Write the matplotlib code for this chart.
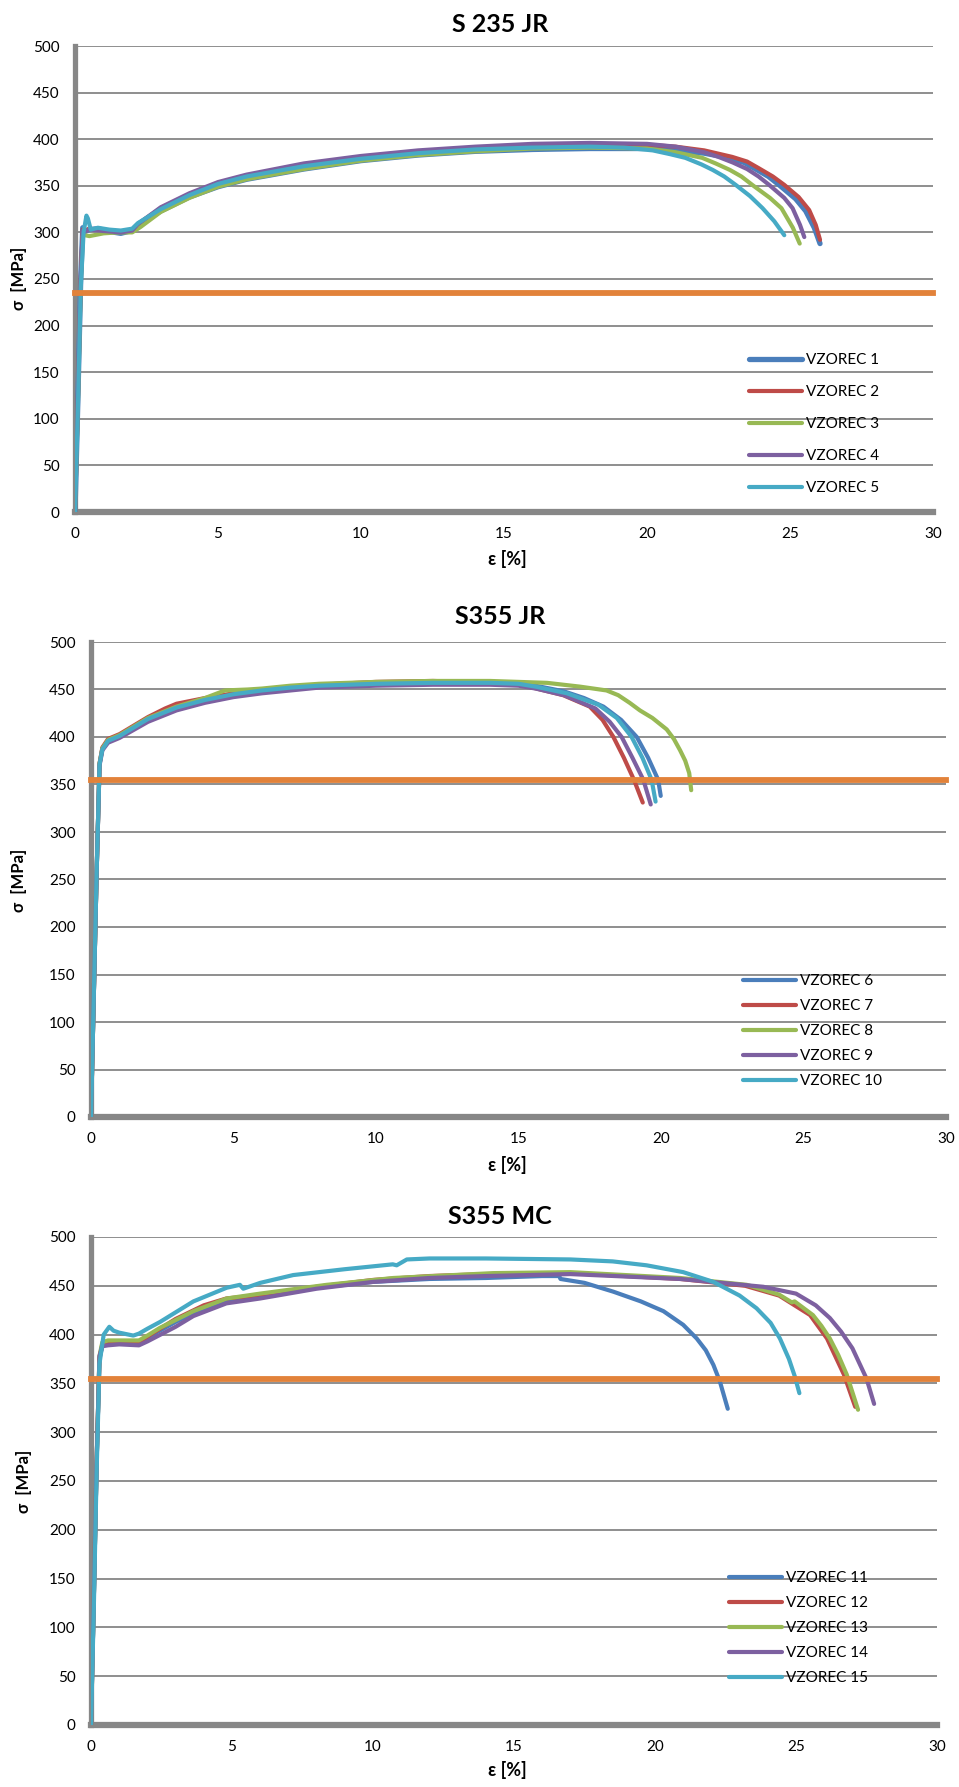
import numpy as np
import matplotlib.pyplot as plt

plt.rcParams['font.family'] = ['Lato', 'DejaVu Sans']

# ---- S 235 JR ----
v1_eps = [0, 0.1, 0.2, 0.27, 0.35, 0.5, 0.8, 1.2, 1.6, 2.0, 2.2, 3, 4, 5, 6, 8, 10, 12, 14, 16, 18, 20, 21, 22, 22.87, 23.4, 23.8, 24.25, 24.62, 25.2, 25.55, 25.85, 26.05]
v1_sig = [0, 120, 250, 305, 301, 303, 304, 301, 299, 302, 308, 323, 338, 349, 357, 368, 377, 383, 387, 389, 390, 390, 388, 385, 380, 375, 368, 360, 351, 336, 323, 305, 288]
v2_eps = [0, 0.1, 0.2, 0.27, 0.35, 0.5, 0.8, 1.2, 1.6, 2.0, 2.2, 3, 4, 5, 6, 8, 10, 12, 14, 16, 18, 20, 21, 22, 22.98, 23.5, 23.9, 24.4, 24.8, 25.3, 25.67, 25.9, 26.05]
v2_sig = [0, 120, 250, 303, 302, 304, 303, 302, 301, 303, 309, 326, 341, 353, 361, 373, 381, 387, 391, 394, 395, 394, 392, 388, 381, 376, 369, 360, 351, 338, 324, 308, 292]
v3_eps = [0, 0.1, 0.2, 0.27, 0.35, 0.5, 1.0, 1.5, 2.0, 2.3, 3, 4, 5, 6, 8, 10, 12, 14, 16, 18, 20, 21, 21.93, 22.4, 22.9, 23.3, 23.68, 24.3, 24.7, 25.1, 25.34]
v3_sig = [0, 115, 245, 296, 297, 296, 299, 300, 300, 306, 322, 337, 349, 357, 368, 377, 383, 387, 390, 391, 390, 386, 380, 374, 367, 360, 351, 337, 326, 305, 288]
v4_eps = [0, 0.1, 0.2, 0.27, 0.35, 0.5, 0.8, 1.2, 1.6, 2.0, 2.2, 3, 4, 5, 6, 8, 10, 12, 14, 16, 18, 20, 21, 22, 22.5, 23.0, 23.5, 23.9, 24.27, 24.8, 25.09, 25.35, 25.5]
v4_sig = [0, 120, 250, 302, 301, 303, 302, 301, 300, 302, 309, 327, 342, 354, 362, 374, 382, 388, 392, 395, 396, 395, 392, 386, 381, 375, 368, 360, 351, 337, 326, 308, 295]
v5_eps = [0, 0.1, 0.2, 0.3, 0.4, 0.45, 0.55, 0.8, 1.2, 1.6, 2.0, 2.2, 3, 4, 5, 6, 8, 10, 12, 14, 16, 18, 19.2, 20.2, 20.8, 21.34, 21.9, 22.3, 22.7, 23.1, 23.6, 24.04, 24.45, 24.8]
v5_sig = [0, 110, 240, 300, 318, 315, 303, 305, 303, 302, 304, 310, 325, 340, 352, 360, 371, 379, 385, 389, 391, 392, 391, 388, 384, 380, 373, 367, 360, 351, 339, 326, 312, 297]

# ---- S355 JR ----
v6_eps = [0, 0.1, 0.2, 0.3, 0.4, 0.6, 1, 2, 3, 4, 5, 6, 7, 8, 10, 12, 14, 15, 15.6, 16.6, 17.3, 17.98, 18.6, 19.15, 19.55, 19.9, 19.99]
v6_sig = [0, 130, 260, 372, 388, 396, 401, 419, 431, 439, 445, 449, 452, 454, 456, 457, 457, 456, 454, 448, 441, 432, 418, 400, 378, 355, 338]
v7_eps = [0, 0.1, 0.2, 0.3, 0.4, 0.6, 1, 2, 2.6, 3, 4, 5, 6, 7, 8, 10, 12, 14, 15, 15.5, 16.57, 17.5, 17.95, 18.33, 18.7, 19.05, 19.36]
v7_sig = [0, 130, 260, 372, 389, 398, 403, 421, 430, 435, 441, 446, 450, 453, 455, 458, 459, 457, 455, 452, 444, 432, 418, 400, 378, 355, 331]
v8_eps = [0, 0.1, 0.2, 0.3, 0.4, 0.6, 1, 2, 3, 4, 4.7, 5.5, 6, 7, 8, 10, 12, 14, 16, 17.16, 18.09, 18.5, 18.9, 19.26, 19.7, 20.2, 20.45, 20.67, 20.85, 20.99, 21.06]
v8_sig = [0, 130, 260, 372, 388, 397, 402, 420, 432, 441, 449, 450, 451, 454, 456, 458, 459, 459, 457, 453, 449, 444, 436, 428, 420, 408, 398, 386, 375, 362, 344]
v9_eps = [0, 0.1, 0.2, 0.3, 0.4, 0.6, 1, 2, 3, 4, 5, 6, 7, 8, 10, 12, 14, 15, 15.6, 16.6, 17.7, 18.2, 18.62, 19.0, 19.38, 19.64]
v9_sig = [0, 130, 260, 370, 386, 394, 399, 416, 428, 436, 442, 446, 449, 452, 454, 455, 455, 454, 451, 444, 430, 416, 400, 378, 355, 329]
v10_eps = [0, 0.1, 0.2, 0.3, 0.4, 0.6, 1, 2, 3, 4, 5, 6, 7, 8, 10, 12, 14, 15, 15.6, 16.7, 17.8, 18.45, 18.97, 19.35, 19.67, 19.81]
v10_sig = [0, 130, 260, 371, 387, 396, 401, 419, 431, 439, 445, 449, 452, 454, 456, 457, 457, 456, 453, 446, 434, 420, 400, 378, 355, 332]

# ---- S355 MC ----
v11_eps = [0, 0.1, 0.2, 0.3, 0.4, 0.5, 1.0, 1.7, 2.0, 3, 4, 5, 6, 8, 10, 12, 14, 15, 16, 16.6, 16.65, 17.5, 18.52, 19.5, 20.3, 21.0, 21.48, 21.8, 22.07, 22.3, 22.58]
v11_sig = [0, 130, 270, 375, 388, 391, 392, 391, 397, 413, 427, 435, 440, 448, 454, 457, 458, 459, 460, 460, 457, 453, 444, 434, 424, 410, 396, 384, 369, 352, 324]
v12_eps = [0, 0.1, 0.2, 0.3, 0.4, 0.5, 1.0, 1.7, 2.0, 3, 4, 4.8, 5.5, 6, 8, 10, 12, 14, 17, 20.9, 23.2, 24.4, 25.5, 26.1, 26.7, 27.1]
v12_sig = [0, 130, 270, 376, 390, 392, 393, 392, 398, 416, 430, 437, 439, 441, 449, 456, 460, 462, 463, 457, 450, 440, 420, 396, 359, 326]
v13_eps = [0, 0.1, 0.2, 0.3, 0.4, 0.6, 1.0, 1.7, 2.0, 2.45, 3.63, 4.81, 6.0, 8.36, 10.72, 14.27, 17, 20.9, 23.25, 24.4, 24.85, 24.95, 25.6, 25.9, 26.2, 26.5, 26.8, 27.2]
v13_sig = [0, 130, 270, 378, 392, 394, 394, 394, 399, 407, 424, 437, 442, 451, 458, 463, 464, 458, 451, 441, 433, 434, 420, 409, 396, 379, 359, 323]
v14_eps = [0, 0.1, 0.2, 0.3, 0.4, 0.6, 1.0, 1.7, 2.0, 3, 3.63, 4.8, 6.0, 8, 10, 12, 14, 17, 20.9, 23.84, 25.0, 25.7, 26.2, 26.6, 27.0, 27.5, 27.77]
v14_sig = [0, 130, 270, 378, 388, 389, 390, 389, 393, 408, 419, 432, 437, 447, 454, 458, 460, 462, 457, 449, 442, 430, 417, 403, 386, 355, 329]
v15_eps = [0, 0.1, 0.2, 0.3, 0.45, 0.65, 0.8, 1.0, 1.5, 1.7, 2.0, 2.45, 3.63, 4.81, 5.28, 5.4, 6.0, 7.17, 9, 10.7, 10.84, 11.2, 12, 14, 17, 18.5, 19.7, 21, 22.07, 23, 23.6, 24.1, 24.43, 24.75, 24.96, 25.12]
v15_sig = [0, 120, 260, 370, 400, 408, 404, 402, 399, 401, 406, 413, 434, 448, 451, 447, 453, 461, 467, 472, 471, 477, 478, 478, 477, 475, 471, 464, 454, 440, 427, 412, 396, 375, 357, 340]

colors = ['#4A7EBB', '#BE4B48', '#98B954', '#7D60A0', '#46AAC5']
yield_color = '#E2823A'
grid_color = '#8E8E8E'
axis_color = '#878787'

panels = [
    dict(title='S 235 JR', yield_val=235,
         eps=[v1_eps, v2_eps, v3_eps, v4_eps, v5_eps],
         sig=[v1_sig, v2_sig, v3_sig, v4_sig, v5_sig],
         labels=['VZOREC 1', 'VZOREC 2', 'VZOREC 3', 'VZOREC 4', 'VZOREC 5'],
         lw=[3.8, 3.0, 3.0, 3.0, 3.0],
         rect=[75, 46, 933, 512], title_y=25, xlabel_y=559, ylabel_xy=(19, 278),
         leg_x=749, leg_y=424, leg_space=1.18),
    dict(title='S355 JR', yield_val=355,
         eps=[v6_eps, v7_eps, v8_eps, v9_eps, v10_eps],
         sig=[v6_sig, v7_sig, v8_sig, v9_sig, v10_sig],
         labels=['VZOREC 6', 'VZOREC 7', 'VZOREC 8', 'VZOREC 9', 'VZOREC 10'],
         lw=[3.0] * 5,
         rect=[91, 642, 946, 1117], title_y=616, xlabel_y=1165, ylabel_xy=(19, 880),
         leg_x=743, leg_y=1031, leg_space=0.72),
    dict(title='S355 MC', yield_val=355,
         eps=[v11_eps, v12_eps, v13_eps, v14_eps, v15_eps],
         sig=[v11_sig, v12_sig, v13_sig, v14_sig, v15_sig],
         labels=['VZOREC 11', 'VZOREC 12', 'VZOREC 13', 'VZOREC 14', 'VZOREC 15'],
         lw=[3.0] * 5,
         rect=[91, 1237, 937, 1725], title_y=1217, xlabel_y=1770, ylabel_xy=(24, 1481),
         leg_x=729, leg_y=1628, leg_space=0.72),
]

W, H = 959, 1787
fig = plt.figure(figsize=(W / 100, H / 100), dpi=100)

for p in panels:
    x0, y0, x1, y1 = p['rect']
    ax = fig.add_axes([x0 / W, 1 - y1 / H, (x1 - x0) / W, (y1 - y0) / H])
    for e, s, lab, c, lw in zip(p['eps'], p['sig'], p['labels'], colors, p['lw']):
        ax.plot(e, s, color=c, lw=lw, label=lab, solid_capstyle='round',
                solid_joinstyle='round', zorder=3)
    ax.plot([0, 30], [p['yield_val'], p['yield_val']], color=yield_color, lw=4.2,
            clip_on=False, zorder=4)

    ax.set_xlim(0, 30)
    ax.set_ylim(0, 500)
    ax.set_xticks(np.arange(0, 31, 5))
    ax.set_yticks(np.arange(0, 501, 50))
    ax.yaxis.grid(True, color=grid_color, lw=1.4)
    ax.set_axisbelow(True)
    for side in ['top', 'right']:
        ax.spines[side].set_visible(False)
    ax.spines['left'].set_color(axis_color)
    ax.spines['left'].set_linewidth(3.8)
    ax.spines['bottom'].set_color(axis_color)
    ax.spines['bottom'].set_linewidth(4.5)
    ax.tick_params(length=0, labelsize=11, pad=11)

    fig.text(500 / W, 1 - p['title_y'] / H, p['title'], ha='center', va='center',
             fontsize=18, fontweight='bold')
    fig.text(507 / W, 1 - p['xlabel_y'] / H, 'ε [%]', ha='center', va='center',
             fontsize=13, fontweight='bold')
    fig.text(p['ylabel_xy'][0] / W, 1 - p['ylabel_xy'][1] / H, 'σ  [MPa]',
             ha='center', va='center', rotation=90, fontsize=12, fontweight='bold')

    ax.legend(loc='center left', bbox_to_anchor=(p['leg_x'] / W, 1 - p['leg_y'] / H),
              bbox_transform=fig.transFigure, frameon=False, fontsize=11,
              handlelength=3.45, handletextpad=0.3, labelspacing=p['leg_space'],
              borderpad=0, borderaxespad=0)

fig.savefig('out.png', dpi=100)
